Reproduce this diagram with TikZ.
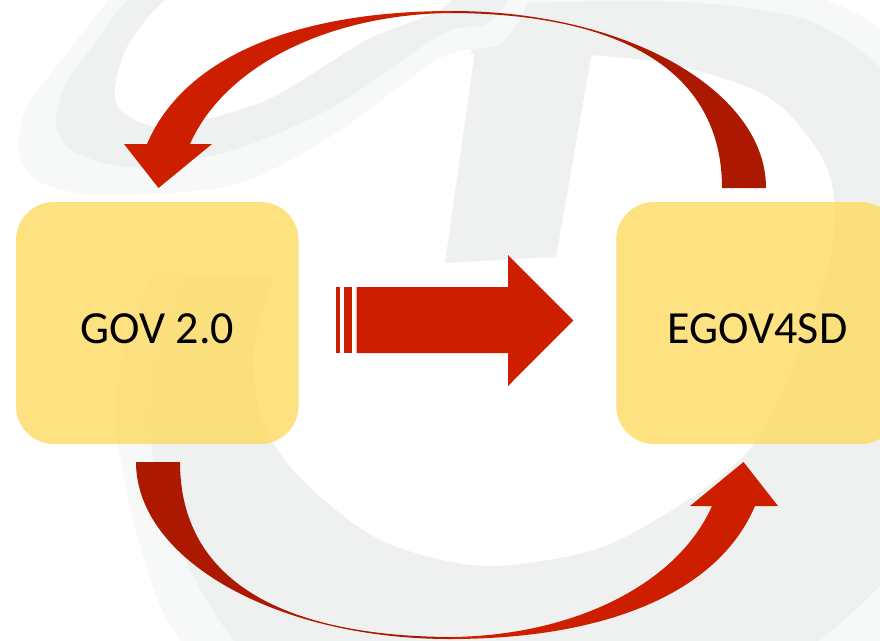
\documentclass[tikz,border=0pt]{standalone}
\usepackage{fontspec}
\setmainfont{Carlito}
\definecolor{arrowred}{RGB}{205,31,0}
\definecolor{arrowdark}{RGB}{172,24,0}
\definecolor{boxyellow}{RGB}{254,220,106}
\definecolor{markgrey}{RGB}{239,241,240}
\definecolor{marklight}{RGB}{247,248,248}
\begin{document}
\begin{tikzpicture}[x=1pt,y=-1pt,
  box/.style={rectangle, rounded corners=38pt, fill=boxyellow, fill opacity=0.85,
    minimum width=282.5pt, minimum height=242pt, inner sep=0pt},
  boxtext/.style={font=\fontsize{46}{55}\selectfont, text=black, inner sep=0pt, anchor=base},
  headpart/.style={fill=arrowred},
  tailpart/.style={fill=arrowdark}]
\fill[white] (0,0) rectangle (880,640);
\useasboundingbox (0,0) rectangle (880,640);

% faint logo in the background: open ring and slanted bar
\begin{scope}
  \clip (0,282) -- (300,276) -- (445,262) -- (478,0) -- (900,-10) -- (900,700) -- (0,700) -- cycle;
  \fill[marklight, even odd rule]
    plot[smooth cycle] coordinates {(150,280) (122,360) (118,440) (140,545) (180,640) (290,735)
      (500,800) (730,765) (905,625) (1000,440) (1025,260) (985,130) (910,50) (810,-5)
      (600,-35) (470,-25) (350,30) (200,150)}
    plot[smooth cycle] coordinates {(273,277) (254,350) (262,420) (300,478) (380,540) (483,566)
      (600,548) (700,492) (757,440) (800,350) (832,250) (828,170) (773,100) (680,66)
      (590,55) (480,52) (380,100) (310,180)};
  \fill[markgrey, even odd rule]
    plot[smooth cycle] coordinates {(187,280) (160,350) (150,430) (172,530) (234,640) (340,725)
      (500,760) (700,720) (880,585) (960,430) (985,270) (950,150) (880,67) (807,20)
      (700,3) (560,2) (470,10) (380,60) (250,160)}
    plot[smooth cycle] coordinates {(273,277) (254,350) (262,420) (300,478) (380,540) (483,566)
      (600,548) (700,492) (757,440) (800,350) (832,250) (828,170) (773,100) (680,66)
      (590,55) (480,52) (380,100) (310,180)};
\end{scope}
\fill[markgrey] (445,263) -- (478,30) -- (592,52) -- (556,257) -- cycle;

% faint logo in the background: swoosh at the top left
\fill[marklight, even odd rule]
  plot[smooth cycle] coordinates {(505,40) (440,58) (333,135) (233,185) (100,195) (40,182)
    (20,155) (25,110) (60,62) (105,5) (160,-60) (330,-100) (520,-30)}
  plot[smooth cycle] coordinates {(440,10) (367,40) (267,100) (167,127) (122,112) (115,87)
    (128,45) (165,0) (230,-35) (350,-40) (450,-15)};
\fill[markgrey, even odd rule]
  plot[smooth cycle] coordinates {(490,22) (440,35) (333,107) (233,150) (133,167) (75,152)
    (56,125) (65,85) (90,50) (127,0) (180,-50) (330,-75) (500,-20)}
  plot[smooth cycle] coordinates {(440,10) (367,40) (267,100) (167,127) (122,112) (115,87)
    (128,45) (165,0) (230,-35) (350,-40) (450,-15)};

% the two boxes
\node[box] (gov) at (157.25,323) {};
\node[box] (egov) at (757.5,323) {};
\node[boxtext] (govtext) at ([yshift=-20pt]gov.center) {GOV 2.0};
\node[boxtext] (egovtext) at ([yshift=-20pt]egov.center) {EGOV4SD};

% straight block arrow with stripes
\fill[arrowred] (336,287) rectangle (340,353);
\fill[arrowred] (344.3,287) rectangle (352.3,353);
\fill[arrowred] (356.7,287) -- (508,287) -- (508,255) -- (573.3,320.5) -- (508,386)
  -- (508,353) -- (356.7,353) -- cycle;

% curved arrow over the top, from EGOV4SD back to GOV 2.0
\fill[headpart] (452,11) .. controls (300,11) and (185,55) .. (147,144) -- (124,144)
  -- (158.5,188) -- (212,144) -- (190,144) .. controls (225,65) and (330,14) .. (452,13) -- cycle;
\fill[tailpart] (452,11) .. controls (625,11) and (766,90) .. (766,188) -- (722,188)
  .. controls (722,70) and (620,14) .. (452,13) -- cycle;

% curved arrow under the bottom, from GOV 2.0 to EGOV4SD
\begin{scope}[rotate around={180:(451,325)}]
\fill[headpart] (452,11) .. controls (300,11) and (185,55) .. (147,144) -- (124,144)
  -- (158.5,188) -- (212,144) -- (190,144) .. controls (225,65) and (330,14) .. (452,13) -- cycle;
\fill[tailpart] (452,11) .. controls (625,11) and (766,90) .. (766,188) -- (722,188)
  .. controls (722,70) and (620,14) .. (452,13) -- cycle;
\end{scope}
\end{tikzpicture}
\end{document}
